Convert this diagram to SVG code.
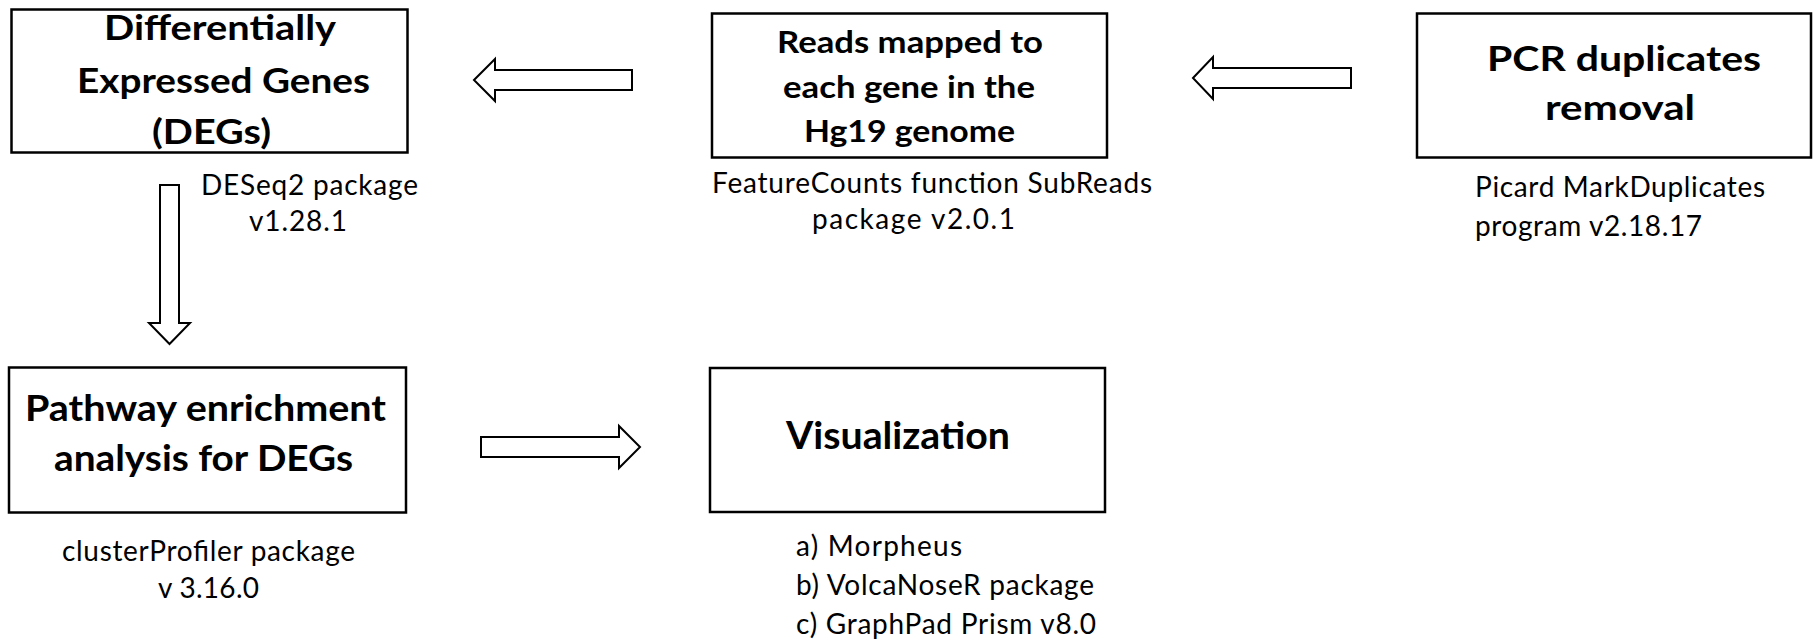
<svg xmlns="http://www.w3.org/2000/svg" width="1815" height="639" viewBox="0 0 1815 639">
<style>
.box{fill:#fff;stroke:#000;stroke-width:2.5}
.arr{fill:#fff;stroke:#000;stroke-width:2;stroke-linejoin:miter}
.b{font-family:Lato,"Liberation Sans",sans-serif;font-weight:bold;fill:#000}
.r{font-family:Lato,"Liberation Sans",sans-serif;font-size:28px;fill:#000}
</style>
<rect width="1815" height="639" fill="#fff"/>
<g id="connectors">
<polygon class="arr" points="474,80 495,59 495,70 632,70 632,90 495,90 495,101"/>
<polygon class="arr" points="1193,78 1213,57 1213,68 1351,68 1351,88 1213,88 1213,99"/>
<polygon class="arr" points="160,185 179,185 179,323 190,323 169.5,344 149,323 160,323"/>
<polygon class="arr" points="481,437 619,437 619,426 640,447 619,468 619,457 481,457"/>
</g>
<g id="node-degs">
<rect class="box" x="11.5" y="9.5" width="396" height="143"/>
<text class="b" font-size="35" x="104" y="40" textLength="232" lengthAdjust="spacingAndGlyphs">Differentially</text>
<text class="b" font-size="35" x="77" y="93" textLength="293" lengthAdjust="spacingAndGlyphs">Expressed Genes</text>
<text class="b" font-size="35" x="152" y="144" textLength="119" lengthAdjust="spacingAndGlyphs">(DEGs)</text>
<text class="r" x="201" y="195" textLength="217">DESeq2 package</text>
<text class="r" x="249" y="231" textLength="98">v1.28.1</text>
</g>
<g id="node-reads">
<rect class="box" x="712" y="13.5" width="395" height="144"/>
<text class="b" font-size="30" x="777" y="53" textLength="266" lengthAdjust="spacingAndGlyphs">Reads mapped to</text>
<text class="b" font-size="30" x="783" y="98" textLength="252" lengthAdjust="spacingAndGlyphs">each gene in the</text>
<text class="b" font-size="30" x="804" y="142" textLength="211" lengthAdjust="spacingAndGlyphs">Hg19 genome</text>
<text class="r" x="712" y="193" textLength="440">FeatureCounts function SubReads</text>
<text class="r" x="812" y="229" textLength="203">package v2.0.1</text>
</g>
<g id="node-pcr">
<rect class="box" x="1417" y="13.5" width="394" height="144"/>
<text class="b" font-size="35" x="1487" y="71" textLength="274" lengthAdjust="spacingAndGlyphs">PCR duplicates</text>
<text class="b" font-size="35" x="1545" y="120" textLength="150" lengthAdjust="spacingAndGlyphs">removal</text>
<text class="r" x="1475" y="197" textLength="290">Picard MarkDuplicates</text>
<text class="r" x="1475" y="236" textLength="227">program v2.18.17</text>
</g>
<g id="node-pathway">
<rect class="box" x="9" y="367.5" width="397" height="145"/>
<text class="b" font-size="37" x="25" y="421" textLength="361" lengthAdjust="spacingAndGlyphs">Pathway enrichment</text>
<text class="b" font-size="37" x="54" y="471" textLength="299" lengthAdjust="spacingAndGlyphs">analysis for DEGs</text>
<text class="r" x="62" y="561" textLength="293">clusterProfiler package</text>
<text class="r" x="158" y="598" textLength="101">v 3.16.0</text>
</g>
<g id="node-visualization">
<rect class="box" x="710" y="368" width="395" height="144"/>
<text class="b" font-size="38" x="786" y="449" textLength="224" lengthAdjust="spacingAndGlyphs">Visualization</text>
<text class="r" x="796" y="556" textLength="166">a) Morpheus</text>
<text class="r" x="796" y="595" textLength="298">b) VolcaNoseR package</text>
<text class="r" x="796" y="634" textLength="300">c) GraphPad Prism v8.0</text>
</g>
</svg>
